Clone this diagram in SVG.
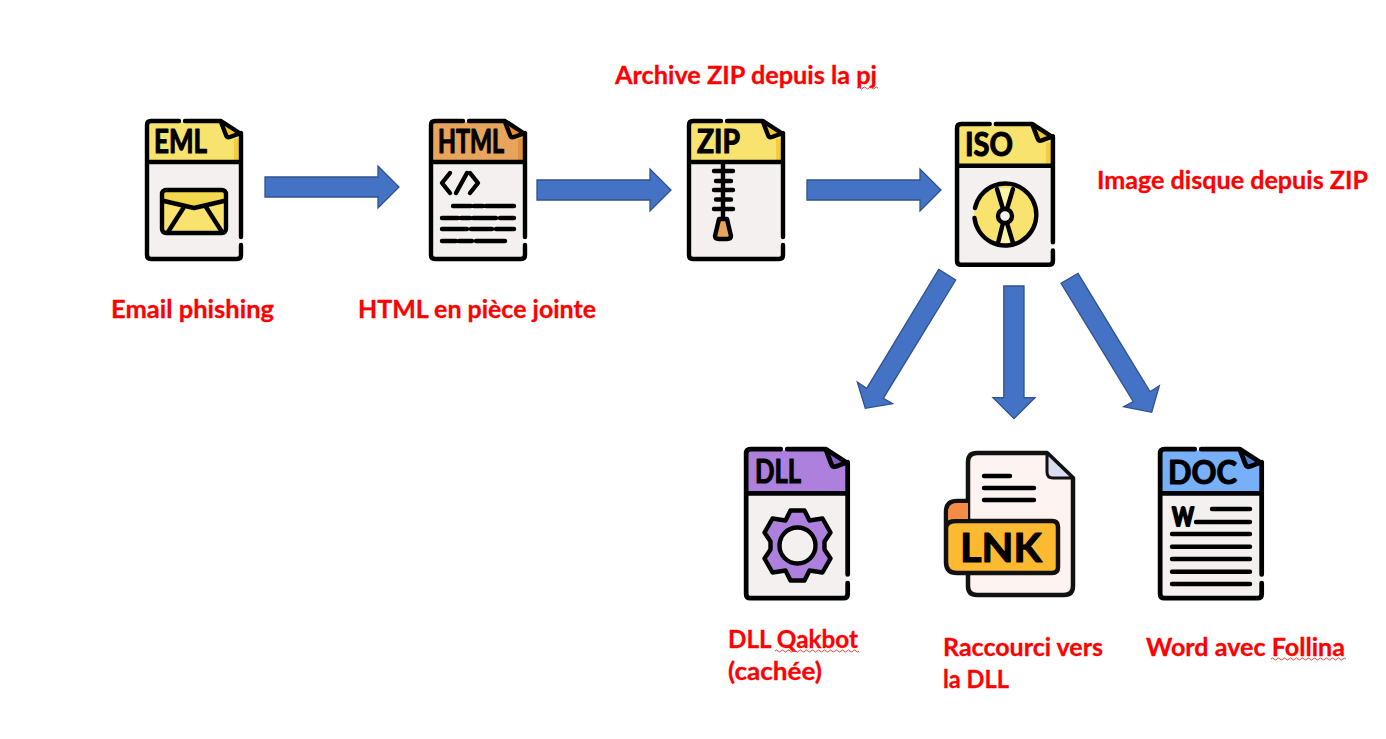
<svg xmlns="http://www.w3.org/2000/svg" width="1386" height="739" viewBox="0 0 1386 739">
<style>
.lbl{font-family:Lato,"Liberation Sans",sans-serif;font-weight:700;font-size:25px;fill:#fe0000;stroke:#fe0000;stroke-width:.3}
.ico{font-family:Lato,"Liberation Sans",sans-serif;font-weight:700;font-size:32px;fill:#000;stroke:#000;stroke-width:1.100;stroke-linejoin:round}
.arr{fill:#4472c4;stroke:#2f528f;stroke-width:1.300}
.ol{fill:none;stroke:#000;stroke-width:4.400;stroke-linecap:round;stroke-linejoin:round}
.body{fill:#f4f0ef}
.wave{fill:none;stroke:#e0483c;stroke-width:1}
</style>
<defs>
<g id="outline">
<rect class="body" x="3" y="44" width="92" height="95"/>
<path class="ol" d="M34,2H6Q2,2 2,6V136Q2,140 6,140H92Q96,140 96,136V126M96,118V15L76,2H40M2,43H96"/>
</g>
<g id="foldline"><path class="ol" d="M76,3L81,16Q82,19 85,18L96,14"/></g>
<path id="hdr" d="M3,3H76L95,15V42H3Z"/>
<path id="fold" d="M76,3L81,16Q82,19 85,18L96,14Z"/>
</defs>
<g id="connectors">
<path class="arr" d="M265,177H378V166L399,187L378,208V197H265Z"/>
<path class="arr" d="M537,180H650V169L671,190L650,211V200H537Z"/>
<path class="arr" d="M807,180H920V169L941,190L920,211V200H807Z"/>
<path class="arr" d="M938.700,269.300L955.700,280L883.300,398.300L892.700,403.700L865.300,408.300L857.300,382L866.700,388.300Z"/>
<path class="arr" d="M1003.800,286H1024V397.700H1035L1014,418.700L993,397.700H1003.800Z"/>
<path class="arr" d="M1061,283.300L1078,273.300L1150,391.700L1159.300,385.700L1151.700,412.300L1123.700,406.700L1133.300,401.700Z"/>
</g>
<g id="eml">
<g transform="translate(145,119)">
<use href="#hdr" fill="#f8e36f"/><rect x="89" y="20" width="6" height="22" fill="#f2cf3a"/><use href="#fold" fill="#f2c926"/><use href="#outline"/><use href="#foldline"/>
</g>
<text class="ico" x="154" y="153" textLength="53" lengthAdjust="spacingAndGlyphs">EML</text>
<rect x="162" y="190" width="64" height="43" rx="4" fill="#f8e36f"/>
<path d="M164,192H224V200L194,208L164,200Z" fill="#f2d64e"/>
<path class="ol" d="M164,201L194,208L224,201M184,207L168,232M206,207L222,232"/>
<rect x="162" y="190" width="64" height="43" rx="4" class="ol"/>
</g>
<g id="html">
<g transform="translate(429,119)">
<use href="#hdr" fill="#e8a35c"/><rect x="89" y="20" width="6" height="22" fill="#e0913f"/><use href="#fold" fill="#e8892e"/><use href="#outline"/><use href="#foldline"/>
</g>
<text class="ico" x="438" y="153" textLength="66" lengthAdjust="spacingAndGlyphs">HTML</text>
<path class="ol" d="M450,173L442,183L450,193M467,173L456,193M470,173L478,183L470,193"/>
<path class="ol" d="M453,206H471M474,206H483M486,206H514M442,218H458M461,218H470M473,218H496M500,218H514M442,229H467M471,229H492M496,229H514M442,241H456M459,241H472M476,241H505"/>
</g>
<g id="zip">
<g transform="translate(687,119)">
<use href="#hdr" fill="#f8e36f"/><rect x="89" y="20" width="6" height="22" fill="#f2cf3a"/><use href="#fold" fill="#f2c926"/><use href="#outline"/><use href="#foldline"/>
</g>
<text class="ico" x="697" y="153" textLength="43" lengthAdjust="spacingAndGlyphs">ZIP</text>
<path class="ol" d="M723,163V219M714,171H733M716,181H731M714,190H733M716,199.500H731M714,209H733"/>
<path class="ol" d="M719,219H727L731,236Q731,239 727,239H719Q715,239 715,236Z" style="fill:#e8a35c"/>
</g>
<g id="iso">
<g transform="translate(955,122) scale(1.02)">
<use href="#hdr" fill="#f8e36f"/><rect x="89" y="20" width="6" height="22" fill="#f2cf3a"/><use href="#fold" fill="#f2c926"/><use href="#outline"/><use href="#foldline"/>
</g>
<text class="ico" x="965" y="156" textLength="48" lengthAdjust="spacingAndGlyphs">ISO</text>
<circle cx="1005" cy="216" r="31" fill="#f8e36f"/>
<path d="M997,188L1005,216L1013,188ZM997,244L1005,216L1014,244Z" fill="#fbf3a8"/>
<path class="ol" d="M997,189L1003,209M1013,189L1007,209M998,243L1003,223M1013,243L1007,223"/>
<path class="ol" d="M975,208A31,31 0 1 1 974.500,218"/>
<circle cx="1005" cy="216" r="7" class="ol" style="fill:#f4f0ef"/>
</g>
<g id="dll">
<g transform="translate(744,447) scale(1.08)">
<use href="#hdr" fill="#ac80dc"/><use href="#fold" fill="#8a5cc8"/><use href="#outline"/><use href="#foldline"/>
</g>
<text class="ico" x="755" y="483" textLength="46" lengthAdjust="spacingAndGlyphs">DLL</text>
<path class="ol" style="fill:#ac80dc" transform="translate(797.500,545.500)" d="M-7,-35H7L12,-25L25,-27L33,-13L27,-4V4L33,13L25,27L12,25L7,35H-7L-12,25L-25,27L-33,13L-27,4V-4L-33,-13L-25,-27L-12,-25Z"/>
<circle cx="797.500" cy="545.500" r="18" class="ol" style="fill:#f4f0ef"/>
</g>
<g id="lnk">
<path d="M968,505V462Q968,453 977,453H1047L1073,478V586Q1073,595 1064,595H977Q968,595 968,586Z" fill="#fdf3f0" stroke="#111" stroke-width="4.500" stroke-linejoin="round"/>
<path d="M1047,453V472Q1047,478 1053,478H1073Z" fill="#dcdcf0" stroke="#111" stroke-width="3" stroke-linejoin="round"/>
<path class="ol" d="M984,476H1010M984,488H1034M984,500H1034"/>
<path d="M968,502H957Q946,502 946,513V521H968Z" fill="#f58b45"/>
<path d="M968,501H957Q946,501 946,512V562Q946,573 957,573H1052Q1058,573 1058,567V527Q1058,521 1052,521H968H957Q946,521 946,528" fill="#fdb92f" stroke="#111" stroke-width="4.500" stroke-linejoin="round"/>
<path d="M968,503H957Q948,503 948,513V519H968Z" fill="#f58b45"/>
<text class="ico" x="960" y="562" textLength="82" lengthAdjust="spacingAndGlyphs" style="font-size:40px">LNK</text>
</g>
<g id="doc">
<g transform="translate(1158,447) scale(1.08)">
<use href="#hdr" fill="#78b0f8"/><use href="#fold" fill="#4a7ed8"/><use href="#outline"/><use href="#foldline"/>
</g>
<text class="ico" x="1168" y="484" textLength="69" lengthAdjust="spacingAndGlyphs">DOC</text>
<text class="ico" x="1172" y="526" textLength="22" lengthAdjust="spacingAndGlyphs" style="font-size:26px;font-weight:900;stroke-width:1.800">W</text>
<path class="ol" d="M1212,509H1250M1196,522H1250M1172,534H1250M1172,546.700H1250M1172,559H1250M1172,571.700H1250M1172,584H1250"/>
</g>
<g id="labels">
<text class="lbl" x="111" y="318" textLength="163" lengthAdjust="spacingAndGlyphs">Email phishing</text>
<text class="lbl" x="358" y="318" textLength="238" lengthAdjust="spacingAndGlyphs">HTML en pièce jointe</text>
<text class="lbl" x="615" y="84" textLength="262" lengthAdjust="spacingAndGlyphs">Archive ZIP depuis la pj</text>
<text class="lbl" x="1097" y="189" textLength="271" lengthAdjust="spacingAndGlyphs">Image disque depuis ZIP</text>
<text class="lbl" x="728" y="648" textLength="130" lengthAdjust="spacingAndGlyphs">DLL Qakbot</text>
<text class="lbl" x="728" y="680" textLength="94" lengthAdjust="spacingAndGlyphs">(cachée)</text>
<text class="lbl" x="943" y="656" textLength="160" lengthAdjust="spacingAndGlyphs">Raccourci vers</text>
<text class="lbl" x="943" y="688" textLength="66" lengthAdjust="spacingAndGlyphs">la DLL</text>
<text class="lbl" x="1146" y="656" textLength="199" lengthAdjust="spacingAndGlyphs">Word avec Follina</text>
<path class="wave" d="M857,88q1.500,-2 3,0t3,0t3,0t3,0t3,0t3,0t3,0"/>
<path class="wave" d="M775,651q1.500,-2 3,0t3,0t3,0t3,0t3,0t3,0t3,0t3,0t3,0t3,0t3,0t3,0t3,0t3,0t3,0t3,0t3,0t3,0t3,0t3,0t3,0t3,0t3,0t3,0t3,0t3,0t3,0t3,0"/>
<path class="wave" d="M1271,659q1.500,-2 3,0t3,0t3,0t3,0t3,0t3,0t3,0t3,0t3,0t3,0t3,0t3,0t3,0t3,0t3,0t3,0t3,0t3,0t3,0t3,0t3,0t3,0t3,0t3,0t3,0"/>
</g>
</svg>
